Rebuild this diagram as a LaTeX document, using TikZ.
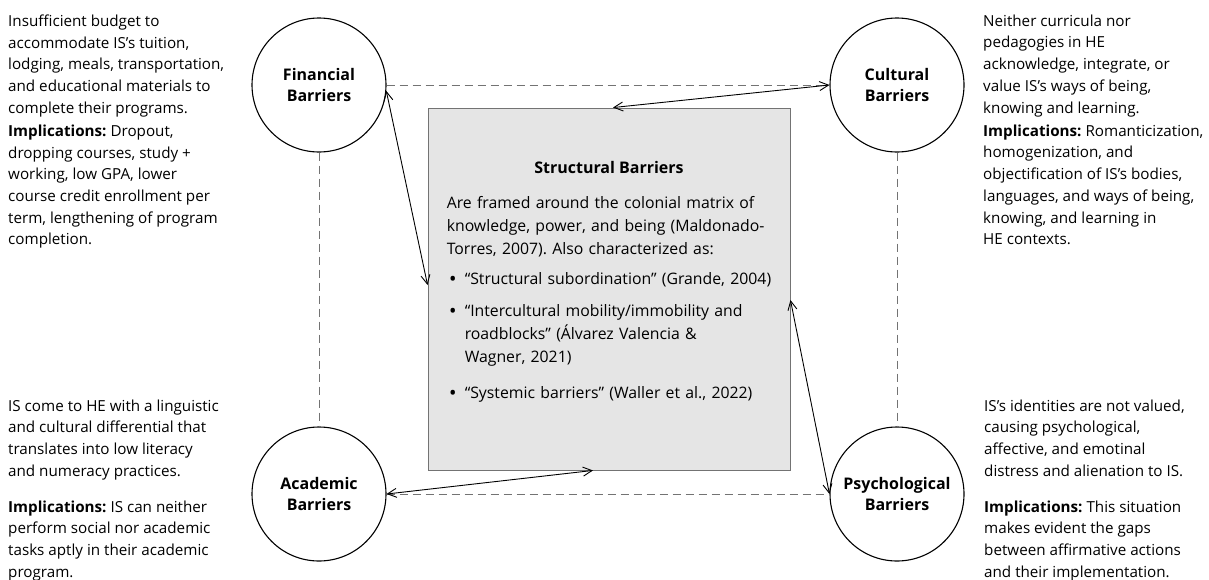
\documentclass[tikz,border=0pt]{standalone}
\usepackage{fontspec}
\setmainfont{Open Sans}
\usetikzlibrary{arrows.meta,shapes,positioning}
\frenchspacing

\newcommand{\txtfont}{\fontsize{15.2}{21.7}\selectfont}
\newcommand{\boxfont}{\fontsize{15.8}{23}\selectfont}
\newcommand{\lblfont}{\fontsize{16}{21}\selectfont\bfseries}
\newcommand{\impl}{\textbf{Implications:}}
\newcommand{\bul}{\makebox[18pt][l]{\hspace{3pt}\textbf{\textbullet}}}

\begin{document}
\begin{tikzpicture}[x=1pt,y=-1pt,
    barrier/.style={circle,draw,line width=1.1pt,minimum size=134pt,align=center,font=\lblfont,inner sep=0pt},
    structbox/.style={rectangle,draw=black!55,fill=black!10,line width=0.9pt,minimum width=362pt,minimum height=362pt},
    note/.style={anchor=north west,align=left,font=\txtfont,inner sep=0pt},
    link/.style={draw=black!55,dashed,dash pattern=on 8pt off 5pt,line width=0.9pt},
    both/.style={{Straight Barb[length=9pt,width=9pt]}-{Straight Barb[length=9pt,width=9pt]},line width=0.9pt}]
    \useasboundingbox (0,0) rectangle (1209,579);

    \node[structbox] (sb) at (609,289) {};
    \node[barrier] (fin) at (319,85) {Financial\\Barriers};
    \node[barrier] (cul) at (897,85) {Cultural\\Barriers};
    \node[barrier] (aca) at (319,494) {Academic\\Barriers};
    \node[barrier] (psy) at (897,494) {Psychological\\Barriers};

    \draw[link] (fin) -- (cul);
    \draw[link] (fin) -- (aca);
    \draw[link] (cul) -- (psy);
    \draw[link] (aca) -- (psy);

    \node[font=\lblfont,below=50pt of sb.north] (sbtitle) {Structural Barriers};
    \coordinate (sbleft) at ([xshift=19pt]sb.west |- sbtitle.south);
    \node[note,font=\boxfont,below=19pt of sbleft,anchor=north west,text width=340pt] (sbtext) {Are framed around the colonial matrix of\\
        knowledge, power, and being (Maldonado-\\
        Torres, 2007). Also characterized as:\\[7pt]
        \bul“Structural subordination” (Grande, 2004)\\[9pt]
        \bul“Intercultural mobility/immobility and\\
        \hspace*{18pt}roadblocks” (Álvarez Valencia \&\\
        \hspace*{18pt}Wagner, 2021)\\[13pt]
        \bul“Systemic barriers” (Waller et al., 2022)};

    \draw[both] (fin.-5) -- ([yshift=4pt]sb.west);
    \draw[both] ([xshift=4pt]sb.north) -- (cul.west);
    \draw[both] (aca.east) -- ([xshift=-16pt]sb.south);
    \draw[both] ([yshift=-11pt]sb.east) -- (psy.west);

    \node[note] (fintxt) at (8,14.5) {Insufficient budget to\\
        accommodate IS’s tuition,\\
        lodging, meals, transportation,\\
        and educational materials to\\
        complete their programs.\\[1.5pt]
        \impl{} Dropout,\\
        dropping courses, study +\\
        working, low GPA, lower\\
        course credit enrollment per\\
        term, lengthening of program\\
        completion.};
    \node[note] (cultxt) at (983,14.5) {Neither curricula nor\\
        pedagogies in HE\\
        acknowledge, integrate, or\\
        value IS’s ways of being,\\
        knowing and learning.\\[1.5pt]
        \impl{} Romanticization,\\
        homogenization, and\\
        objectification of IS’s bodies,\\
        languages, and ways of being,\\
        knowing, and learning in\\
        HE contexts.};
    \node[note] (acatxt) at (8,399.5) {IS come to HE with a linguistic\\
        and cultural differential that\\
        translates into low literacy\\
        and numeracy practices.\\[14pt]
        \impl{} IS can neither\\
        perform social nor academic\\
        tasks aptly in their academic\\
        program.};
    \node[note] (psytxt) at (984,399.5) {IS’s identities are not valued,\\
        causing psychological,\\
        affective, and emotinal\\
        distress and alienation to IS.\\[14pt]
        \impl{} This situation\\
        makes evident the gaps\\
        between affirmative actions\\
        and their implementation.};
\end{tikzpicture}
\end{document}
